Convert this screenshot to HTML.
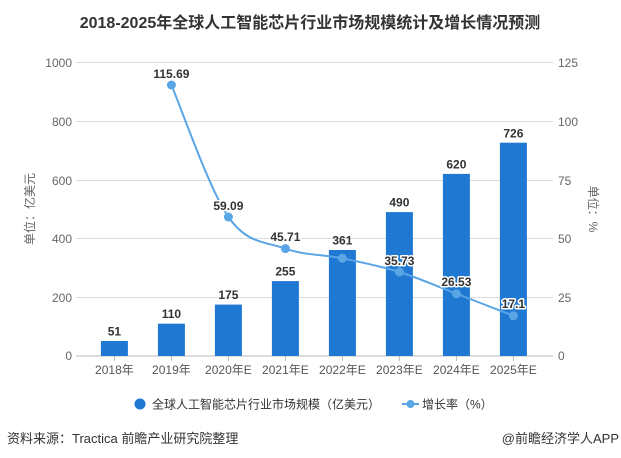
<!DOCTYPE html>
<html>
<head>
<meta charset="utf-8">
<style>
html,body{margin:0;padding:0;background:#fff;}
svg{display:block;}
text{font-family:"Liberation Sans","Noto Sans CJK SC",sans-serif;}
</style>
</head>
<body>
<svg width="621" height="458" viewBox="0 0 621 458" xmlns="http://www.w3.org/2000/svg">
  <rect width="621" height="458" fill="#fff"/>
  <!-- title -->
  <text x="310" y="28" text-anchor="middle" font-size="16" font-weight="bold" fill="#333">2018-2025年全球人工智能芯片行业市场规模统计及增长情况预测</text>

  <!-- gridlines -->
  <g stroke="#dcdcdc" stroke-width="1">
    <line x1="76" y1="62.5" x2="553" y2="62.5"/>
    <line x1="76" y1="121.5" x2="553" y2="121.5"/>
    <line x1="76" y1="180.5" x2="553" y2="180.5"/>
    <line x1="76" y1="238.5" x2="553" y2="238.5"/>
    <line x1="76" y1="297.5" x2="553" y2="297.5"/>
  </g>
  <line x1="76" y1="356" x2="553" y2="356" stroke="#bbb" stroke-width="1"/>
  <g stroke="#bbb" stroke-width="1">
    <line x1="114.4" y1="356" x2="114.4" y2="361"/>
    <line x1="171.4" y1="356" x2="171.4" y2="361"/>
    <line x1="228.4" y1="356" x2="228.4" y2="361"/>
    <line x1="285.4" y1="356" x2="285.4" y2="361"/>
    <line x1="342.4" y1="356" x2="342.4" y2="361"/>
    <line x1="399.4" y1="356" x2="399.4" y2="361"/>
    <line x1="456.4" y1="356" x2="456.4" y2="361"/>
    <line x1="513.4" y1="356" x2="513.4" y2="361"/>
  </g>

  <!-- left y labels -->
  <g font-size="12" fill="#666" text-anchor="end">
    <text x="72" y="67">1000</text>
    <text x="72" y="126">800</text>
    <text x="72" y="185">600</text>
    <text x="72" y="243">400</text>
    <text x="72" y="302">200</text>
    <text x="72" y="360">0</text>
  </g>
  <!-- right y labels -->
  <g font-size="12" fill="#666" text-anchor="start">
    <text x="558" y="67">125</text>
    <text x="558" y="126">100</text>
    <text x="558" y="185">75</text>
    <text x="558" y="243">50</text>
    <text x="558" y="302">25</text>
    <text x="558" y="360">0</text>
  </g>
  <!-- axis titles -->
  <text x="0" y="0" font-size="12" fill="#666" text-anchor="middle" transform="translate(34,209) rotate(-90)">单位：亿美元</text>
  <text x="0" y="0" font-size="12" fill="#666" text-anchor="middle" transform="translate(589,209) rotate(90)">单位：%</text>

  <!-- bars -->
  <g fill="#1f78d1">
    <rect x="100.9" y="341" width="27" height="15"/>
    <rect x="157.9" y="323.7" width="27" height="32.3"/>
    <rect x="214.9" y="304.6" width="27" height="51.4"/>
    <rect x="271.9" y="281.1" width="27" height="74.9"/>
    <rect x="328.9" y="250" width="27" height="106"/>
    <rect x="385.9" y="212.1" width="27" height="143.9"/>
    <rect x="442.9" y="173.9" width="27" height="182.1"/>
    <rect x="499.9" y="142.7" width="27" height="213.3"/>
  </g>
  <!-- bar labels -->
  <g font-size="12" font-weight="bold" fill="#333" text-anchor="middle">
    <text x="114.4" y="335.5">51</text>
    <text x="171.4" y="318">110</text>
    <text x="228.4" y="299">175</text>
    <text x="285.4" y="275.5">255</text>
    <text x="342.4" y="244.5">361</text>
    <text x="399.4" y="206.5">490</text>
    <text x="456.4" y="168.5">620</text>
    <text x="513.4" y="137.5">726</text>
  </g>

  <!-- x labels -->
  <g font-size="12" fill="#555" text-anchor="middle">
    <text x="114.4" y="374">2018年</text>
    <text x="171.4" y="374">2019年</text>
    <text x="228.4" y="374">2020年E</text>
    <text x="285.4" y="374">2021年E</text>
    <text x="342.4" y="374">2022年E</text>
    <text x="399.4" y="374">2023年E</text>
    <text x="456.4" y="374">2024年E</text>
    <text x="513.4" y="374">2025年E</text>
  </g>

  <!-- line -->
  <path d="M171.4,85 C180.9,107 209.4,189.7 228.4,217 C247.4,244.3 266.4,241.7 285.4,248.6 C304.4,255.5 323.4,254.4 342.4,258.3 C361.4,262.2 380.4,266.1 399.4,272 C418.4,277.9 437.4,286.4 456.4,293.7 C475.4,301 503.9,312.1 513.4,315.8" fill="none" stroke="#5aa5e6" stroke-width="2"/>
  <g fill="#5aa5e6">
    <circle cx="171.4" cy="85" r="4.5"/>
    <circle cx="228.4" cy="217" r="4.5"/>
    <circle cx="285.4" cy="248.6" r="4.5"/>
    <circle cx="342.4" cy="258.3" r="4.5"/>
    <circle cx="399.4" cy="272" r="4.5"/>
    <circle cx="456.4" cy="293.7" r="4.5"/>
    <circle cx="513.4" cy="315.8" r="4.5"/>
  </g>
  <!-- line labels -->
  <g font-size="12" font-weight="bold" text-anchor="middle" fill="#333" stroke="#fff" stroke-width="3" paint-order="stroke" stroke-linejoin="round">
    <text x="171.4" y="78">115.69</text>
    <text x="228.4" y="210">59.09</text>
    <text x="285.4" y="241">45.71</text>
    <text x="399.4" y="265">35.73</text>
    <text x="456.4" y="286">26.53</text>
    <text x="513.4" y="308">17.1</text>
  </g>

  <!-- legend -->
  <circle cx="140" cy="404" r="5.5" fill="#1f78d1"/>
  <text x="152" y="408.5" font-size="12" fill="#333">全球人工智能芯片行业市场规模（亿美元）</text>
  <line x1="402" y1="404" x2="419" y2="404" stroke="#5aa5e6" stroke-width="2"/>
  <circle cx="410.5" cy="404" r="4" fill="#5aa5e6"/>
  <text x="422" y="408.5" font-size="12" fill="#333">增长率（%）</text>

  <!-- footer -->
  <text x="7" y="443" font-size="13" fill="#333">资料来源：Tractica 前瞻产业研究院整理</text>
  <text x="619" y="443" font-size="13" fill="#333" text-anchor="end">@前瞻经济学人APP</text>
</svg>
</body>
</html>
